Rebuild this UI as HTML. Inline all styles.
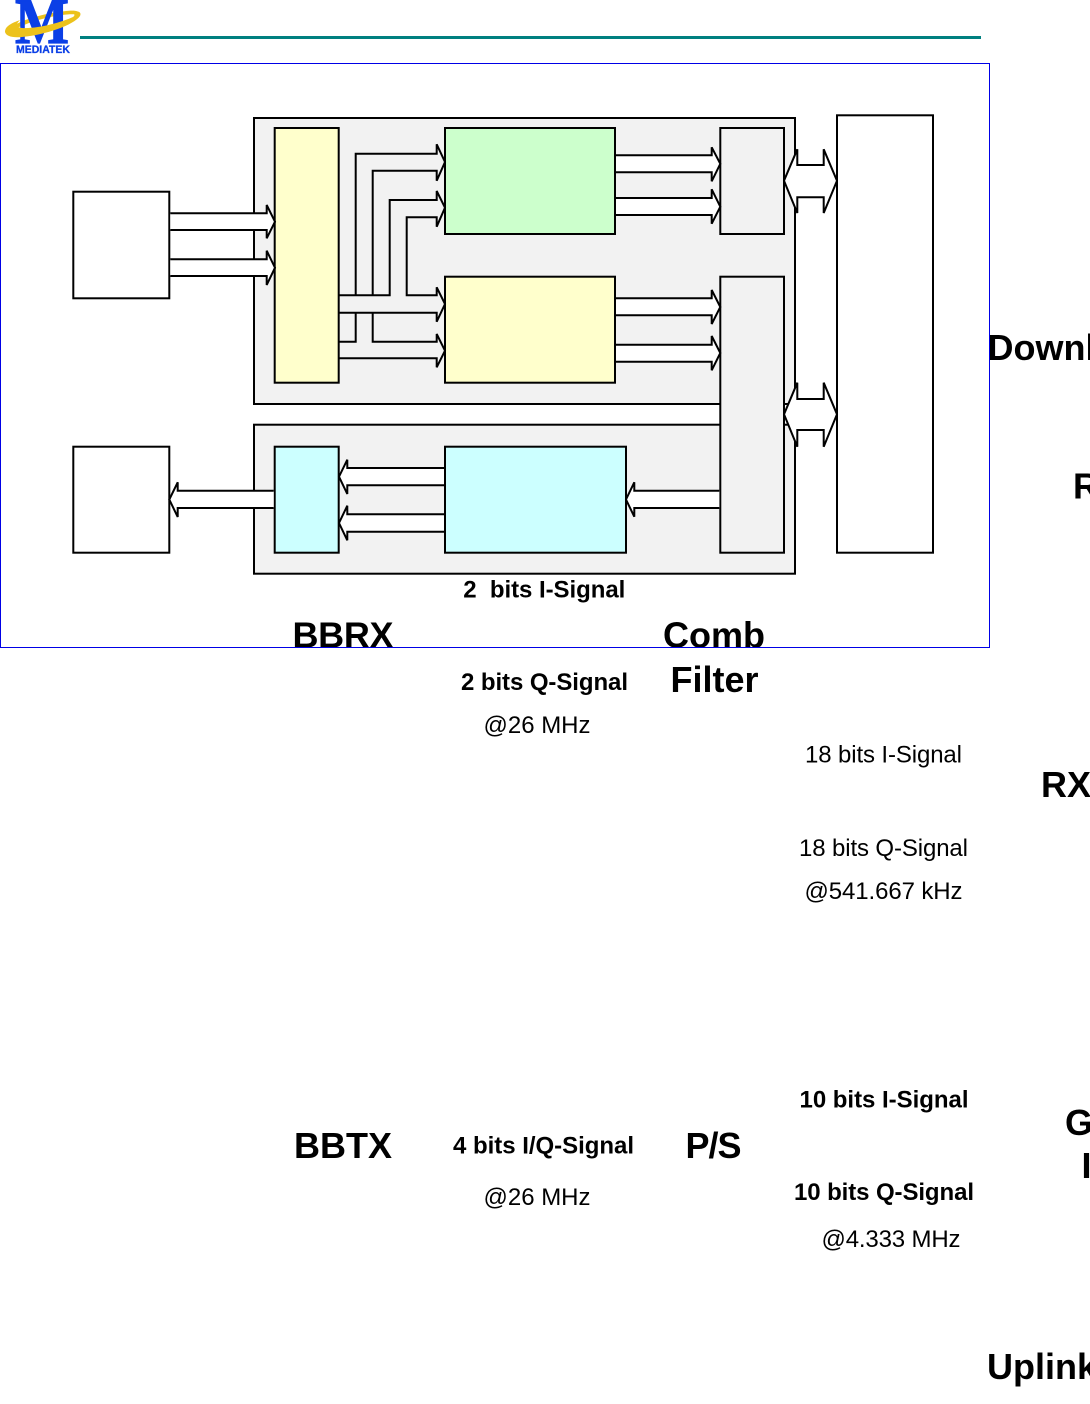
<!DOCTYPE html>
<html><head><meta charset="utf-8"><style>
html,body{margin:0;padding:0;background:#fff;width:1090px;height:1404px;overflow:hidden}
svg{display:block}
text{font-family:"Liberation Sans",Arial,sans-serif;fill:#000}
.b{font-weight:bold;font-size:24px}
.r{font-size:24px}
.h{font-weight:bold;font-size:36px}
.s{stroke:#000;stroke-width:2;stroke-linejoin:miter}
</style></head><body>
<svg width="1090" height="1404" viewBox="0 0 1090 1404" xmlns="http://www.w3.org/2000/svg">
<rect x="80" y="36" width="901" height="3" fill="#008080"/>
<path d="M6 32C14 21 45 13 66 11C75 10 81 11 79 15C70 12 40 18 24 25C16 28 9 32 6 33Z" fill="#ecc21c"/>
<text x="15" y="43" transform="translate(15 0) scale(.88 1) translate(-15 0)" style="font-family:'Liberation Serif',serif;font-weight:bold;font-size:65px;fill:#0b3fe6;stroke:#0b3fe6;stroke-width:1.2">M</text>
<path d="M5 32C5 26 12 23 20 20C16 24 15 27 22 28C38 29 62 22 73 17C76 15 74 13 70 12C78 10 82 12 80 16C74 25 45 35 22 37C12 38 6 36 5 32Z" fill="#ecc21c"/>
<text x="16" y="53" textLength="54" lengthAdjust="spacingAndGlyphs" style="font-weight:bold;font-size:11px;fill:#0b3fe6;stroke:#0b3fe6;stroke-width:.3">MEDIATEK</text>

<g class="s">
<rect x="254" y="118" width="541" height="286" fill="#f2f2f2"/>
<rect x="254" y="424.7" width="541" height="149" fill="#f2f2f2"/>
<rect x="73.3" y="191.7" width="96" height="106.6" fill="#fff"/>
<rect x="73.3" y="446.7" width="96" height="106" fill="#fff"/>
<rect x="274.7" y="128" width="64" height="254.7" fill="#ffffcc"/>
<rect x="445" y="128" width="170" height="106" fill="#ccffcc"/>
<rect x="445" y="276.7" width="170" height="106" fill="#ffffcc"/>
<rect x="274.7" y="446.7" width="64" height="106" fill="#ccffff"/>
<rect x="445" y="446.7" width="181" height="106" fill="#ccffff"/>
<rect x="720.3" y="128" width="63.7" height="106" fill="#f2f2f2"/>
<rect x="720.3" y="276.7" width="63.7" height="276" fill="#f2f2f2"/>
<rect x="837" y="115.3" width="96" height="437.4" fill="#fff"/>

<g fill="#fff">
<path d="M170.3 213.3H266.7V205L275 221.7L266.7 238.3V230H170.3"/>
<path d="M170.3 259.3H266.7V250.7L275 267.7L266.7 285V276H170.3"/>
<path d="M616 155.3H711.7V147.3L720.3 163.8L711.7 181.3V172.3H616"/>
<path d="M616 198H711.7V189.3L720.3 206.7L711.7 223.7V215H616"/>
<path d="M616 298.3H711.7V290L720.3 307L711.7 324V315.3H616"/>
<path d="M616 344.7H711.7V336L720.3 353L711.7 370.3V361.7H616"/>
<path d="M784 180.7L797.3 149.3V165H823.7V149.3L837 180.7L823.7 213V197.3H797.3V213Z"/>
<path d="M784 414.3L797.3 382.7V399H823.7V382.7L837 414.3L823.7 446.7V430H797.3V446.7Z"/>
<path d="M273.7 490.7H177.7V482.3L169.3 499.5L177.7 517V508H273.7"/>
<path d="M444 468H347.3V459.7L339 476.7L347.3 494V485.3H444"/>
<path d="M444 514.3H347.3V505.7L339 523L347.3 540.3V531.7H444"/>
<path d="M719.3 490.7H634.3V482.3L626 499.5L634.3 516.7V508H719.3"/>
</g>
<g fill="none">
<path d="M355.7 295.3V153.7H436.7V144.3L445 162L436.7 180.7V170.7H372.7V295.3"/>
<path d="M339 295.3H389.7V200H436.7V191L445 207.7L436.7 226.7V217.3H406.7V295.3H436.7V287.3L445 304L436.7 321.7V312.7H339"/>
<path d="M339 341.7H355.7V312.7"/>
<path d="M372.7 312.7V341.7H436.7V334L445 350.7L436.7 367.3V358.3H339"/>
</g>
</g>

<text class="b" x="463.3" y="597.5" xml:space="preserve" textLength="162">2  bits I-Signal</text>
<text class="h" x="292.5" y="647.5" textLength="101">BBRX</text>
<text class="h" x="663" y="647.5" textLength="102">Comb</text>
<text class="h" x="670.5" y="692" textLength="88">Filter</text>
<text class="b" x="461" y="690" textLength="167">2 bits Q-Signal</text>
<text class="r" x="483.5" y="733" textLength="107">@26 MHz</text>
<text class="r" x="805" y="762.5" textLength="157">18 bits I-Signal</text>
<text class="r" x="799" y="856" textLength="169">18 bits Q-Signal</text>
<text class="r" x="804.5" y="899" textLength="158">@541.667 kHz</text>
<text class="h" x="1041" y="797">RX</text>
<text class="h" x="987.5" y="360">Downlink</text>
<text class="h" x="1073" y="498.5">R</text>
<text class="h" x="294" y="1158" textLength="98">BBTX</text>
<text class="b" x="453" y="1153.5" textLength="181">4 bits I/Q-Signal</text>
<text class="h" x="685.5" y="1158" textLength="56">P/S</text>
<text class="r" x="483.5" y="1205" textLength="107">@26 MHz</text>
<text class="b" x="799.5" y="1107.5" textLength="169">10 bits I-Signal</text>
<text class="b" x="794" y="1200" textLength="180">10 bits Q-Signal</text>
<text class="r" x="821.5" y="1247" textLength="139">@4.333 MHz</text>
<text class="h" x="1065" y="1135">G</text>
<text class="h" x="1081.5" y="1178">I</text>
<text class="h" x="987" y="1379">Uplink</text>

<rect x=".5" y="63.5" width="989" height="584" fill="none" stroke="#0000e6" stroke-width="1"/>
</svg>
</body></html>
